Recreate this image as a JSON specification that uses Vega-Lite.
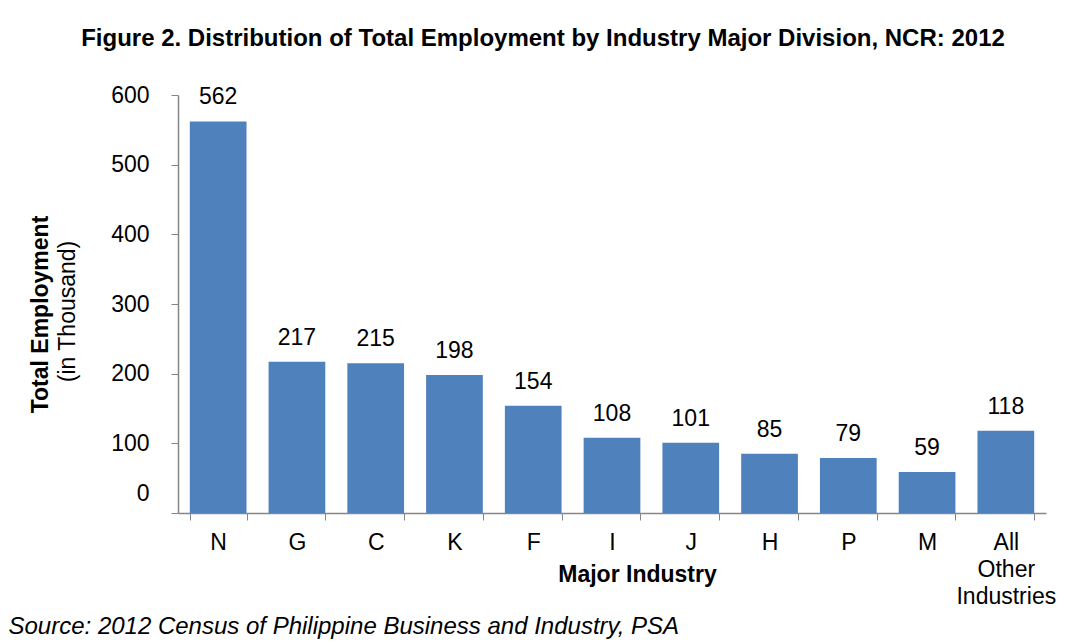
{
  "$schema": "https://vega.github.io/schema/vega-lite/v6.json",
  "autosize": "none",
  "width": 868,
  "height": 418,
  "padding": {"left": 178, "top": 95, "right": 26, "bottom": 130},
  "background": "white",
  "title": {
    "text": "Figure 2. Distribution of Total Employment by Industry Major Division, NCR: 2012",
    "anchor": "middle",
    "frame": "group",
    "dx": -69,
    "font": "Liberation Sans",
    "fontSize": 24,
    "fontWeight": "bold",
    "color": "black",
    "offset": 33
  },
  "config": {
    "view": {"stroke": null},
    "font": "Liberation Sans",
    "axis": {"labelFont": "Liberation Sans", "titleFont": "Liberation Sans", "labelColor": "black", "titleColor": "black", "domainColor": "#868686", "tickColor": "#868686", "grid": false}
  },
  "data": {
    "values": [
      {"industry": "N", "employment": 562},
      {"industry": "G", "employment": 217},
      {"industry": "C", "employment": 215},
      {"industry": "K", "employment": 198},
      {"industry": "F", "employment": 154},
      {"industry": "I", "employment": 108},
      {"industry": "J", "employment": 101},
      {"industry": "H", "employment": 85},
      {"industry": "P", "employment": 79},
      {"industry": "M", "employment": 59},
      {"industry": "All Other Industries", "employment": 118}
    ]
  },
  "resolve": {"axis": {"x": "independent", "y": "independent"}},
  "layer": [
    {
      "mark": {"type": "bar", "color": "#4F81BD"},
      "encoding": {
        "x": {
          "field": "industry", "type": "nominal", "sort": null,
          "scale": {"paddingInner": 0.28, "paddingOuter": 0.15},
          "axis": {
            "orient": "bottom",
            "title": "Major Industry",
            "titleFontSize": 23, "titleFontWeight": "bold",
            "titleX": 459, "titleY": 61, "titleBaseline": "middle", "titleAlign": "center",
            "labelAngle": 0, "labelFontSize": 23, "labelPadding": 11,
            "labelExpr": "datum.label == 'All Other Industries' ? ['All','Other','Industries'] : datum.label",
            "labelLineHeight": 27,
            "tickBand": "extent", "tickSize": 7, "domainWidth": 1.5
          }
        },
        "y": {
          "field": "employment", "type": "quantitative",
          "scale": {"domain": [0, 600], "nice": false},
          "axis": {
            "orient": "left",
            "title": "(in Thousand)",
            "titleFontSize": 23, "titleFontWeight": "normal",
            "titleX": -111, "titleY": 216, "titleAngle": 270, "titleAlign": "center", "titleBaseline": "middle",
            "values": [0, 100, 200, 300, 400, 500, 600],
            "labelFontSize": 23, "labelPadding": 22, "tickSize": 7,
            "labelOffset": {"condition": {"test": "datum.value == 0", "value": -20}, "value": 0},
            "domainWidth": 1.5
          }
        }
      }
    },
    {
      "mark": {"type": "text", "fontSize": 23, "baseline": "bottom", "dy": -12, "color": "black", "font": "Liberation Sans"},
      "encoding": {
        "x": {
          "field": "industry", "type": "nominal", "sort": null,
          "axis": {
            "orient": "bottom",
            "title": "Source: 2012 Census of Philippine Business and Industry, PSA",
            "titleFontSize": 24, "titleFontWeight": "normal", "titleFontStyle": "italic",
            "titleX": -170, "titleY": 113, "titleAlign": "left", "titleBaseline": "middle",
            "labels": false, "ticks": false, "domain": false
          }
        },
        "y": {
          "field": "employment", "type": "quantitative",
          "axis": {
            "orient": "left",
            "title": "Total Employment",
            "titleFontSize": 23, "titleFontWeight": "bold",
            "titleX": -138, "titleY": 219, "titleAngle": 270, "titleAlign": "center", "titleBaseline": "middle",
            "labels": false, "ticks": false, "domain": false
          }
        },
        "text": {"field": "employment", "type": "quantitative"}
      }
    }
  ]
}
